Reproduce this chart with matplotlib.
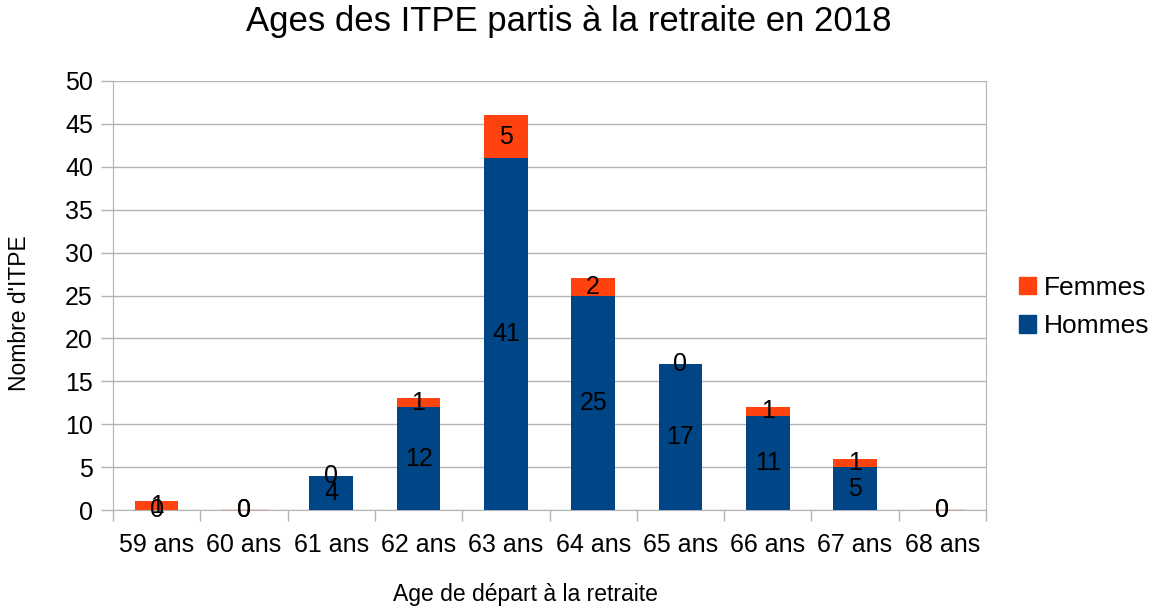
import matplotlib
matplotlib.use("Agg")
import matplotlib.pyplot as plt
from matplotlib.patches import Patch
import numpy as np

plt.rcParams['font.family'] = ['Liberation Sans', 'DejaVu Sans']

categories = ["59 ans", "60 ans", "61 ans", "62 ans", "63 ans", "64 ans", "65 ans", "66 ans", "67 ans", "68 ans"]
hommes = [0, 0, 4, 12, 41, 25, 17, 11, 5, 0]
femmes = [1, 0, 0, 1, 5, 2, 0, 1, 1, 0]

c_h = "#004586"
c_f = "#ff420e"

fig = plt.figure(figsize=(11.58, 6.09), dpi=100)
W, H = 1158, 609
ax = fig.add_axes([113 / W, (H - 510) / H, (986 - 113) / W, (510 - 81) / H])

x = np.arange(len(categories))
ax.bar(x, hommes, width=0.5, color=c_h, zorder=3)
ax.bar(x, femmes, width=0.5, bottom=hommes, color=c_f, zorder=3)
# zero-height segments drawn as thin lines like the reference
for i in range(len(x)):
    if hommes[i] == 0 and femmes[i] == 0:
        ax.plot([x[i] - 0.25, x[i] + 0.25], [0, 0], color=c_f, lw=1, zorder=4)

for i in range(len(x)):
    ax.text(x[i], hommes[i] / 2, str(hommes[i]), ha='center', va='center', fontsize=18, zorder=5)
    ax.text(x[i], hommes[i] + femmes[i] / 2, str(femmes[i]), ha='center', va='center', fontsize=18, zorder=5)

ax.set_xlim(-0.5, len(categories) - 0.5)
ax.set_ylim(0, 50)
ax.set_yticks(range(0, 51, 5))
ax.set_xticks(np.arange(-0.5, len(categories), 1.0), minor=False)
ax.set_xticklabels([])
ax.set_xticks(x, minor=True)
ax.set_xticklabels(categories, minor=True, fontsize=18)
ax.tick_params(axis='x', which='minor', length=0, pad=16.5)
ax.tick_params(axis='x', which='major', length=8, color='#b3b3b3', width=1)
ax.tick_params(axis='y', length=8.6, color='#b3b3b3', width=1, labelsize=18, pad=5.8)
ax.grid(axis='y', color='#b3b3b3', lw=1, zorder=0)
for s in ['left', 'right', 'bottom']:
    ax.spines[s].set_color('#b3b3b3')
ax.spines['top'].set_visible(False)

fig.text(569 / W, 1 - 22 / H, "Ages des ITPE partis à la retraite en 2018", ha='center', va='center', fontsize=25)
fig.text(525 / W, 1 - 594 / H, "Age de départ à la retraite", ha='center', va='center', fontsize=16.5)
fig.text(20 / W, 1 - 313 / H, "Nombre d'ITPE", ha='center', va='center', fontsize=16.5, rotation=90)

handles = [Patch(color=c_f, label="Femmes"), Patch(color=c_h, label="Hommes")]
fig.legend(handles=handles, loc='center left', bbox_to_anchor=(1008 / W, 1 - 307 / H), frameon=False,
           borderaxespad=0, fontsize=19, handlelength=0.65, handleheight=0.65, handletextpad=0.3,
           labelspacing=0.55)

fig.savefig("out.png", dpi=100)
